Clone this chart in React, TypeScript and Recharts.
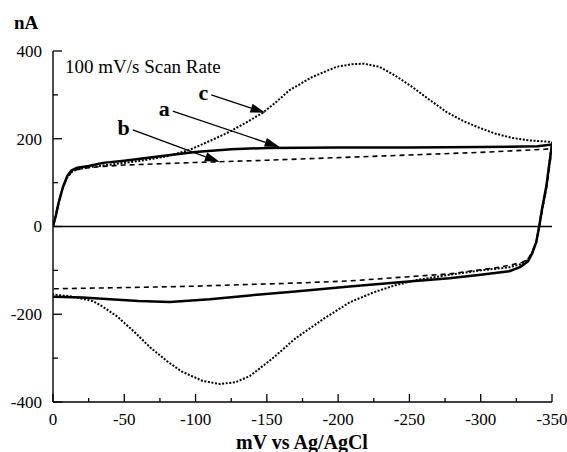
import React from 'react';
import { LineChart, Line, XAxis, YAxis, ReferenceLine } from 'recharts';

const FONT = '"Liberation Serif", "Times New Roman", Times, serif';

// x tick values (mV) and y tick values (nA)
const xTicks = [0, -25, -50, -75, -100, -125, -150, -175, -200, -225, -250, -275, -300, -325, -350];
const yTicks = [-400, -300, -200, -100, 0, 100, 200, 300, 400];

// curve a (solid): [mV, nA]
const curveA: [number, number][] = [
  [0, 0], [-2, 25], [-4, 55], [-7, 90], [-10, 115], [-13, 128], [-17, 134], [-25, 138],
  [-35, 145], [-50, 150], [-75, 160], [-100, 170], [-125, 176], [-150, 179], [-200, 180],
  [-250, 180], [-300, 181], [-340, 183], [-350, 187],
  [-348, 140], [-346, 91], [-343, 40], [-341, 0], [-339, -35], [-336, -62], [-333, -80],
  [-328, -92], [-320, -102], [-300, -110], [-278, -118], [-243, -127], [-208, -137],
  [-170, -148], [-138, -157], [-110, -166], [-82, -172], [-60, -170], [-40, -166],
  [-21, -162], [0, -160],
];

// curve b (dashed)
const curveB: [number, number][] = [
  [0, 0], [-2, 25], [-4, 55], [-7, 90], [-10, 112], [-13, 124], [-17, 130], [-25, 134],
  [-35, 137], [-50, 140], [-75, 143], [-100, 146], [-150, 151], [-200, 157], [-250, 163],
  [-300, 169], [-345, 176], [-350, 178],
  [-348, 130], [-346, 85], [-343, 35], [-341, 0], [-339, -35], [-336, -60], [-333, -74],
  [-329, -82], [-313, -93], [-278, -108], [-243, -116], [-208, -124], [-170, -129],
  [-138, -132], [-100, -136], [-70, -138], [-35, -140], [0, -142],
];

// curve c (dotted)
const curveC: [number, number][] = [
  [0, 0], [-2, 25], [-4, 55], [-7, 90], [-10, 112], [-13, 124], [-17, 130], [-25, 135],
  [-40, 141], [-60, 149], [-80, 160], [-96, 175], [-110, 195], [-124, 216], [-136, 238],
  [-147, 259], [-157, 285], [-166, 311], [-182, 341], [-199, 364], [-210, 370], [-218, 371],
  [-229, 364], [-240, 344], [-252, 318], [-264, 289], [-276, 261], [-288, 240], [-299, 225],
  [-310, 212], [-322, 202], [-335, 196], [-348, 193], [-350, 192],
  [-348, 140], [-346, 88], [-343, 38], [-341, 0], [-339, -35], [-336, -60], [-333, -76],
  [-328, -86], [-320, -93], [-300, -100], [-278, -110], [-255, -122], [-240, -134],
  [-225, -150], [-208, -173], [-190, -210], [-170, -255], [-155, -298], [-138, -341],
  [-128, -355], [-117, -359], [-105, -352], [-90, -330], [-80, -307], [-68, -275],
  [-57, -240], [-45, -205], [-35, -183], [-28, -170], [-12, -159], [0, -155],
];

// annotation arrows: label, start [mV, nA], tip [mV, nA]
const arrowLabels = ['a', 'b', 'c'];
const arrowStarts: [number, number][] = [[-84, 263], [-56, 220], [-111, 300]];
const arrowTips: [number, number][] = [[-159, 181], [-117, 147], [-149, 259]];

const toPts = (arr: [number, number][]) => arr.map(([x, y]) => ({ x, y }));

const YTick = (props: any) => {
  const { x, y, payload } = props;
  const v = payload.value as number;
  const major = v % 200 === 0;
  return (
    <g>
      <line x1={x} x2={x + (major ? 9 : 5)} y1={y} y2={y} stroke="#000" strokeWidth={1.3} />
      {major && (
        <text x={x - 11} y={y} dy="0.35em" textAnchor="end" fontSize={17} fontFamily={FONT} fill="#000">
          {v}
        </text>
      )}
    </g>
  );
};

const XTick = (props: any) => {
  const { x, y, payload } = props;
  const v = payload.value as number;
  const major = v % 50 === 0;
  return (
    <g>
      <line x1={x} x2={x} y1={y} y2={y - (major ? 8 : 4)} stroke="#000" strokeWidth={1.3} />
      {major && (
        <text x={x} y={y + 23} textAnchor="middle" fontSize={17} fontFamily={FONT} fill="#000">
          {v}
        </text>
      )}
    </g>
  );
};

const arrowShape = (label: string) => (p: any) => {
  const { x1, y1, x2, y2 } = p;
  const ang = Math.atan2(y2 - y1, x2 - x1);
  const L = 15;
  const W = 4.5;
  const bx = x2 - L * Math.cos(ang);
  const by = y2 - L * Math.sin(ang);
  const px = -Math.sin(ang) * W;
  const py = Math.cos(ang) * W;
  return (
    <g>
      <line x1={x1} y1={y1} x2={bx} y2={by} stroke="#000" strokeWidth={1.3} />
      <polygon points={`${x2},${y2} ${bx + px},${by + py} ${bx - px},${by - py}`} fill="#000" />
      <text x={x1 - 3} y={y1 + 5} textAnchor="end" fontWeight="bold" fontSize={22} fontFamily={FONT} fill="#000">
        {label}
      </text>
    </g>
  );
};

export default function App() {
  return (
    <div style={{ position: 'absolute', left: 0, top: 0, width: 567, height: 452, background: '#fff' }}>
      <LineChart width={567} height={452} margin={{ top: 51, right: 15, left: 0, bottom: 0 }}>
        <XAxis
          type="number"
          dataKey="x"
          domain={[-350, 0]}
          reversed
          ticks={xTicks}
          interval={0}
          height={50}
          tickSize={0}
          tickMargin={0}
          tickLine={false}
          tick={XTick}
          axisLine={{ stroke: '#000', strokeWidth: 1.4 }}
          allowDataOverflow
        />
        <YAxis
          type="number"
          dataKey="y"
          domain={[-400, 400]}
          ticks={yTicks}
          interval={0}
          width={53}
          tickSize={0}
          tickMargin={0}
          tickLine={false}
          tick={YTick}
          axisLine={{ stroke: '#000', strokeWidth: 1.4 }}
          allowDataOverflow
        />
        <ReferenceLine y={0} stroke="#000" strokeWidth={1.5} />
        <Line data={toPts(curveC)} dataKey="y" type="linear" stroke="#000" strokeWidth={2}
          strokeDasharray="2 1.6" dot={false} activeDot={false} isAnimationActive={false} />
        <Line data={toPts(curveB)} dataKey="y" type="linear" stroke="#000" strokeWidth={1.6}
          strokeDasharray="5 4" dot={false} activeDot={false} isAnimationActive={false} />
        <Line data={toPts(curveA)} dataKey="y" type="linear" stroke="#000" strokeWidth={2.5}
          strokeLinejoin="round" dot={false} activeDot={false} isAnimationActive={false} />
        {arrowLabels.map((lab, i) => (
          <ReferenceLine
            key={lab}
            segment={[
              { x: arrowStarts[i][0], y: arrowStarts[i][1] },
              { x: arrowTips[i][0], y: arrowTips[i][1] },
            ]}
            ifOverflow="visible"
            shape={arrowShape(lab)}
          />
        ))}
        <text x={14} y={29} fontSize={19} fontWeight="bold" fontFamily={FONT} fill="#000">nA</text>
        <text x={65} y={73} fontSize={19} fontFamily={FONT} fill="#000">100 mV/s Scan Rate</text>
        <text x={302} y={449} textAnchor="middle" fontSize={20} fontWeight="bold" fontFamily={FONT} fill="#000">
          mV vs Ag/AgCl
        </text>
      </LineChart>
    </div>
  );
}
